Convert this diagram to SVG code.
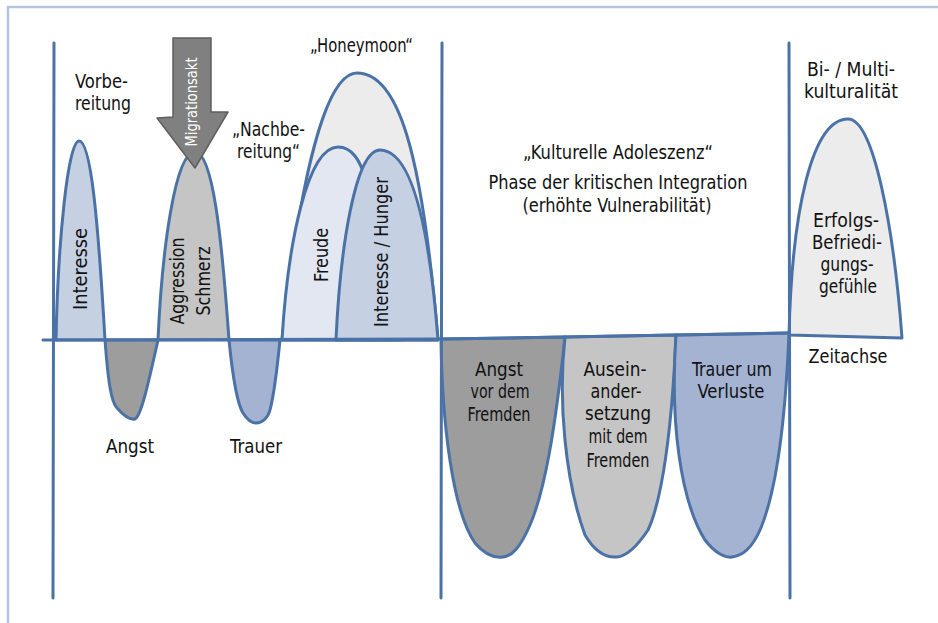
<svg xmlns="http://www.w3.org/2000/svg" width="938" height="623" viewBox="0 0 938 623">
  <style>
    .curve { stroke: #4b72a6; stroke-width: 3; stroke-linejoin: round; }
    .line { fill: none; stroke: #4b72a6; stroke-width: 3; stroke-linecap: round; }
    .t { font-family: "DejaVu Sans Condensed", "Liberation Sans", sans-serif; font-size: 19.5px; fill: #111; }
    .m { text-anchor: middle; }
    .pale { fill: #c6d0e3; }
    .paler { fill: #e2e7f2; }
    .blue { fill: #a3b3d1; }
    .dark { fill: #9d9d9d; }
    .grey { fill: #c5c5c5; }
    .light { fill: #ececec; }
  </style>

  <!-- outer frame -->
  <rect x="8" y="7" width="945" height="640" fill="#fff" stroke="#b4c3de" stroke-width="2.5"/>

  <!-- phase humps above and below the time axis -->
  <g id="interesse">
    <path class="curve pale" d="M56,340 C58,240 68,141 79,141 C91,141 98,220 105,340 Z"/>
    <text class="t m" transform="translate(87,269) rotate(-90)" textLength="82" lengthAdjust="spacingAndGlyphs">Interesse</text>
  </g>
  <g id="angst">
    <path class="curve dark" d="M105,340 C108,380 111,402 117,408 C124,416 130,420 135,419 C141,416 148,385 158,340 Z"/>
    <text class="t" x="106" y="453" textLength="48" lengthAdjust="spacingAndGlyphs">Angst</text>
  </g>
  <g id="aggression">
    <path class="curve grey" d="M158,340 C162,250 175,152 195,152 C213,152 222,240 229,340 Z"/>
    <text class="t m" transform="translate(184,281) rotate(-90)" textLength="87" lengthAdjust="spacingAndGlyphs">Aggression</text>
    <text class="t m" transform="translate(210,281) rotate(-90)" textLength="69" lengthAdjust="spacingAndGlyphs">Schmerz</text>
  </g>
  <g id="trauer">
    <path class="curve blue" d="M229,340 C233,380 238,405 243,413 C248,421 253,423 256,423 C262,423 268,418 270,410 C274,395 277,370 280,340 Z"/>
    <text class="t" x="230" y="453" textLength="52" lengthAdjust="spacingAndGlyphs">Trauer</text>
  </g>
  <g id="honeymoon">
    <path class="curve light" d="M282,340 C300,180 325,73 357,73 C398,73 422,150 438,340 Z"/>
    <text class="t" x="310" y="52" textLength="103" lengthAdjust="spacingAndGlyphs">„Honeymoon“</text>
  </g>
  <g id="freude">
    <path class="curve paler" d="M282,340 C288,240 308,147 338,147 C352,147 360,160 366,180 L400,340 Z"/>
    <text class="t m" transform="translate(328,255) rotate(-90)" textLength="54" lengthAdjust="spacingAndGlyphs">Freude</text>
  </g>
  <g id="interesse-hunger">
    <path class="curve pale" d="M336,340 C340,250 355,150 380,150 C408,150 428,210 438,340 Z"/>
    <text class="t m" transform="translate(388,252) rotate(-90)" textLength="150" lengthAdjust="spacingAndGlyphs">Interesse / Hunger</text>
  </g>

  <g id="angst-fremden">
    <path class="curve dark" d="M441,339 C442,420 452,510 475,543 C485,555 495,558 503,557 C512,556 520,548 530,525 C545,490 555,430 565,337 Z"/>
    <text class="t m" x="499" y="376" textLength="48" lengthAdjust="spacingAndGlyphs">Angst</text>
    <text class="t m" x="500" y="398" textLength="59" lengthAdjust="spacingAndGlyphs">vor dem</text>
    <text class="t m" x="499" y="421" textLength="63" lengthAdjust="spacingAndGlyphs">Fremden</text>
  </g>
  <g id="auseinandersetzung">
    <path class="curve grey" d="M565,337 C558,400 565,480 585,535 C595,552 605,558 617,557 C628,556 638,545 648,530 C662,500 672,430 676,335 Z"/>
    <text class="t m" x="615" y="376" textLength="63" lengthAdjust="spacingAndGlyphs">Ausein-</text>
    <text class="t m" x="616" y="398" textLength="51" lengthAdjust="spacingAndGlyphs">ander-</text>
    <text class="t m" x="618" y="420" textLength="66" lengthAdjust="spacingAndGlyphs">setzung</text>
    <text class="t m" x="618" y="443" textLength="59" lengthAdjust="spacingAndGlyphs">mit dem</text>
    <text class="t m" x="618" y="467" textLength="63" lengthAdjust="spacingAndGlyphs">Fremden</text>
  </g>
  <g id="trauer-verluste">
    <path class="curve blue" d="M676,335 C670,420 680,500 705,540 C715,553 725,558 732,557 C742,556 752,548 760,530 C775,495 785,430 789,333 Z"/>
    <text class="t m" x="732" y="376" textLength="80" lengthAdjust="spacingAndGlyphs">Trauer um</text>
    <text class="t m" x="731" y="398" textLength="67" lengthAdjust="spacingAndGlyphs">Verluste</text>
  </g>
  <g id="erfolgsgefuehle">
    <path class="curve light" d="M789,335 C792,210 812,119 848,119 C874,119 894,230 902,338 Z"/>
    <text class="t m" x="846" y="227" textLength="66" lengthAdjust="spacingAndGlyphs">Erfolgs-</text>
    <text class="t m" x="847" y="249" textLength="70" lengthAdjust="spacingAndGlyphs">Befriedi-</text>
    <text class="t m" x="847" y="271" textLength="53" lengthAdjust="spacingAndGlyphs">gungs-</text>
    <text class="t m" x="848" y="293" textLength="58" lengthAdjust="spacingAndGlyphs">gefühle</text>
  </g>

  <!-- time axis and phase boundaries -->
  <g id="connectors">
    <path class="line" d="M43,340 L441,339 L565,337 L676,335 L789,333"/>
    <path class="line" d="M54,43 C55,250 54,450 53,598"/>
    <path class="line" d="M442,43 C441,250 442,450 441,598"/>
    <path class="line" d="M789,43 C788,250 789,450 790,598"/>
  </g>

  <!-- migration act arrow -->
  <g id="migrationsakt">
    <polygon points="173,38 211,38 211,112 228,112 195,168 157,118 173,117" fill="#808080" stroke="#5e5e5e" stroke-width="1.5" stroke-linejoin="round"/>
    <text class="t m" transform="translate(197,102) rotate(-90)" style="font-size:15px; fill:#fff" textLength="89" lengthAdjust="spacingAndGlyphs">Migrationsakt</text>
  </g>

  <!-- phase labels -->
  <g id="vorbereitung">
    <text class="t" x="75" y="88" textLength="53" lengthAdjust="spacingAndGlyphs">Vorbe-</text>
    <text class="t" x="75" y="110" textLength="56" lengthAdjust="spacingAndGlyphs">reitung</text>
  </g>
  <g id="nachbereitung">
    <text class="t" x="232" y="136" textLength="73" lengthAdjust="spacingAndGlyphs">„Nachbe-</text>
    <text class="t" x="237" y="158" textLength="63" lengthAdjust="spacingAndGlyphs">reitung“</text>
  </g>
  <g id="adoleszenz">
    <text class="t m" x="618" y="159" textLength="190" lengthAdjust="spacingAndGlyphs">„Kulturelle Adoleszenz“</text>
    <text class="t m" x="618" y="189" textLength="259" lengthAdjust="spacingAndGlyphs">Phase der kritischen Integration</text>
    <text class="t m" x="617" y="212" textLength="189" lengthAdjust="spacingAndGlyphs">(erhöhte Vulnerabilität)</text>
  </g>
  <g id="multikulturalitaet">
    <text class="t m" x="851" y="76" textLength="88" lengthAdjust="spacingAndGlyphs">Bi- / Multi-</text>
    <text class="t m" x="851" y="98" textLength="94" lengthAdjust="spacingAndGlyphs">kulturalität</text>
  </g>
  <g id="zeitachse">
    <text class="t m" x="848" y="363" textLength="79" lengthAdjust="spacingAndGlyphs">Zeitachse</text>
  </g>
</svg>
